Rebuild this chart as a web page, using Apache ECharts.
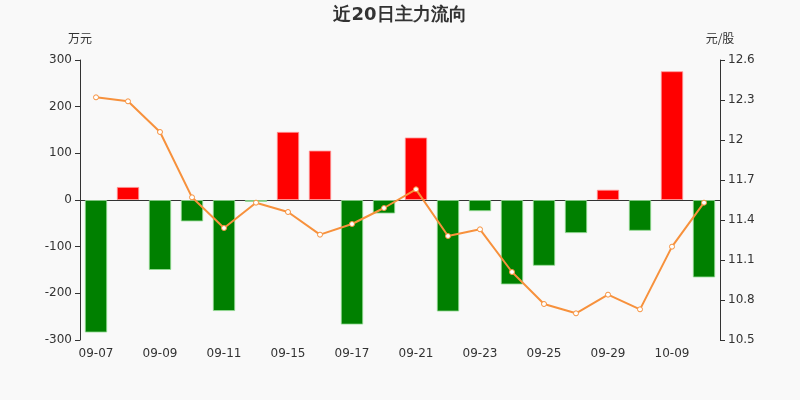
<!DOCTYPE html>
<html lang="zh">
<head>
    <meta charset="UTF-8">
    <title>近20日主力流向</title>
    <script src="https://cdn.jsdelivr.net/npm/echarts@6/dist/echarts.min.js"></script>
    <style type="text/css">
        html, body { margin: 0; padding: 0; background: #f9f9f9; }
        #main { width: 800px; height: 400px; }
    </style>
</head>
<body>
<div id="main"></div>
<script>
    // 日期
    var dates = ['09-07', '09-08', '09-09', '09-10', '09-11', '09-14', '09-15', '09-16', '09-17', '09-18',
        '09-21', '09-22', '09-23', '09-24', '09-25', '09-28', '09-29', '09-30', '10-09', '10-12'];
    // 主力净流入（万元）
    var flow = [-284, 28, -150, -46, -238, -4, 146, 106, -267, -29,
        134, -239, -24, -181, -141, -71, 22, -66, 276, -166];
    // 股价（元/股）
    var price = [12.32, 12.29, 12.06, 11.57, 11.34, 11.53, 11.46, 11.29, 11.37, 11.49,
        11.63, 11.28, 11.33, 11.01, 10.77, 10.70, 10.84, 10.73, 11.20, 11.53];

    var myChart = echarts.init(document.getElementById('main'));

    var barData = flow.map(function (v) {
        return {
            value: v,
            itemStyle: v >= 0
                ? {color: '#ff0000', borderColor: 'rgba(255,150,150,0.8)', borderWidth: 1}
                : {color: '#008000', borderColor: 'rgba(150,220,150,0.8)', borderWidth: 1}
        };
    });

    var axisText = {color: '#333', fontSize: 12, fontFamily: 'DejaVu Sans'};

    var option = {
        backgroundColor: '#f9f9f9',
        animation: false,
        title: {
            text: '近20日主力流向',
            left: 'center',
            top: 1,
            textStyle: {color: '#333', fontSize: 18, fontWeight: 'bold', fontFamily: 'DejaVu Sans'}
        },
        grid: {left: 80, right: 80, top: 60, bottom: 60},
        xAxis: [
            {
                type: 'category',
                data: dates,
                axisLine: {onZero: true, lineStyle: {color: '#333'}},
                axisTick: {interval: 1, length: 5, lineStyle: {color: '#333'}},
                axisLabel: {show: false}
            },
            {
                type: 'category',
                data: dates,
                position: 'bottom',
                axisLine: {show: false},
                axisTick: {show: false},
                axisLabel: Object.assign({interval: 1, margin: 8}, axisText)
            }
        ],
        yAxis: [
            {
                type: 'value',
                name: '万元',
                min: -300,
                max: 300,
                interval: 100,
                nameGap: 16,
                nameTextStyle: {color: '#333', fontSize: 12, fontFamily: 'Noto Sans CJK SC'},
                axisLine: {show: true, lineStyle: {color: '#333'}},
                axisTick: {show: true, lineStyle: {color: '#333'}},
                axisLabel: axisText,
                splitLine: {show: false}
            },
            {
                type: 'value',
                name: '元/股',
                min: 10.5,
                max: 12.6,
                interval: 0.3,
                nameGap: 16,
                nameTextStyle: {color: '#333', fontSize: 12, fontFamily: 'Noto Sans CJK SC'},
                axisLine: {show: true, lineStyle: {color: '#333'}},
                axisTick: {show: true, lineStyle: {color: '#333'}},
                axisLabel: axisText,
                splitLine: {show: false}
            }
        ],
        series: [
            {
                name: '主力流向',
                type: 'bar',
                xAxisIndex: 0,
                yAxisIndex: 0,
                barWidth: '70%',
                data: barData
            },
            {
                name: '股价',
                type: 'line',
                xAxisIndex: 0,
                yAxisIndex: 1,
                symbol: 'circle',
                symbolSize: 5,
                lineStyle: {color: '#f7913c', width: 2},
                itemStyle: {color: '#ffffff', borderColor: '#f7913c', borderWidth: 1},
                data: price
            }
        ]
    };
    myChart.setOption(option);
</script>
</body>
</html>
